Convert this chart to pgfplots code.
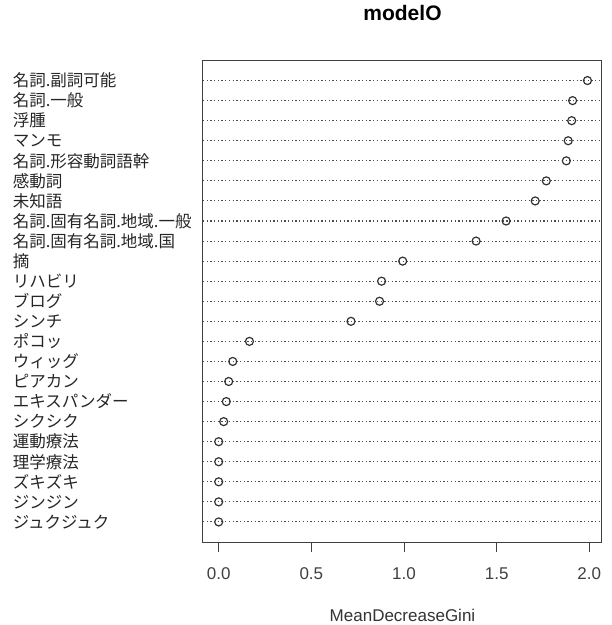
\documentclass[border=0pt]{standalone}
\usepackage{pgfplots}
\pgfplotsset{compat=1.18}
\usepackage{pgfplotstable}
\usepackage{fontspec}
\setmainfont{Liberation Sans}
\newfontfamily\jp{Noto Sans CJK JP}
\pgfplotstableread{
y val
23 1.990
22 1.910
21 1.905
20 1.886
19 1.876
18 1.768
17 1.708
16 1.551
15 1.389
14 0.993
13 0.879
12 0.868
11 0.714
10 0.166
9 0.076
8 0.054
7 0.041
6 0.027
5 0.000
4 0.000
3 0.000
2 0.000
1 0.000
}\gini
\begin{document}
\begin{tikzpicture}[x=1pt,y=1pt]
\useasboundingbox (0,0) rectangle (612,625);
\begin{axis}[
  at={(203pt,83pt)}, anchor=south west,
  scale only axis, width=399pt, height=481.5pt,
  xmin=-0.0847, xmax=2.0685, ymin=0, ymax=24,
  xtick={0,0.5,1,1.5,2},
  xticklabels={0.0,0.5,1.0,1.5,2.0},
  xtick pos=bottom, tick align=outside,
  major tick length=10pt,
  xtick style={black!75, line width=0.9pt},
  ytick={1,...,23},
  ytick style={draw=none},
  yticklabels={ジュクジュク,ジンジン,ズキズキ,理学療法,運動療法,シクシク,エキスパンダー,ピアカン,ウィッグ,ポコッ,シンチ,ブログ,リハビリ,摘,名詞.固有名詞.地域.国,名詞.固有名詞.地域.一般,未知語,感動詞,名詞.形容動詞語幹,マンモ,浮腫,名詞.一般,名詞.副詞可能},
  yticklabel style={font=\jp\fontsize{16.5}{16.5}\selectfont, text=black!85, text width=180pt, align=left, anchor=east, inner sep=0pt},
  xticklabel style={font=\fontsize{17}{17}\selectfont, text=black!75, anchor=base, yshift=-27pt},
  ymajorgrids,
  major grid style={black!70, line width=1.1pt, dash pattern=on 1.3pt off 2.4pt},
  axis line style={black!75, line width=1pt},
  title={modelO},
  title style={font=\fontsize{21}{21}\selectfont\bfseries, at={(axis description cs:0.5,1)}, anchor=base, yshift=34pt},
  xlabel={MeanDecreaseGini},
  xlabel style={font=\fontsize{17}{17}\selectfont, text=black!80, at={(axis description cs:0.5,0)}, anchor=base, inner sep=0pt, yshift=-79pt},
  clip=false,
]
\addplot[only marks, mark=o, mark size=4pt, mark options={black!80, line width=1.2pt}] table[x=val, y=y] {\gini};
\end{axis}
\end{tikzpicture}
\end{document}
